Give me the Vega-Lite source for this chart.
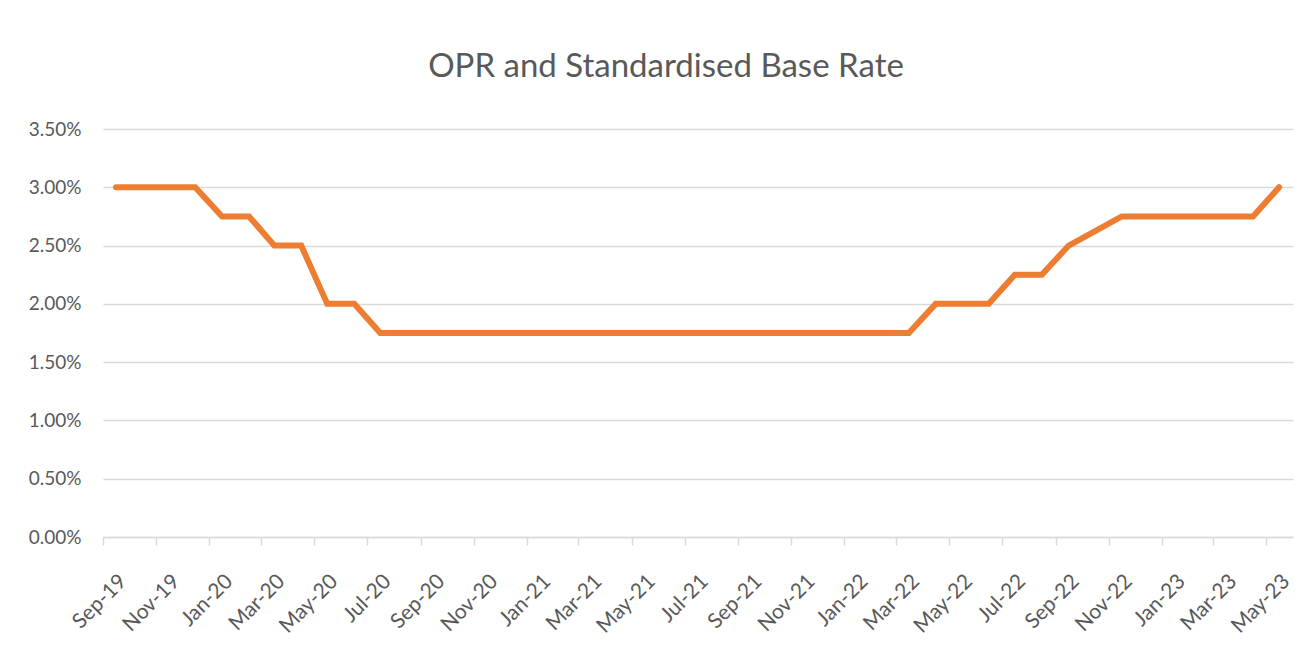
{
  "$schema": "https://vega.github.io/schema/vega-lite/v6.json",
  "autosize": {"type": "none"},
  "width": 1190,
  "height": 408,
  "padding": {"left": 103, "top": 129, "right": 22, "bottom": 118},
  "background": "white",
  "title": {
    "text": "OPR and Standardised Base Rate",
    "font": "Lato",
    "fontSize": 33,
    "fontWeight": "normal",
    "color": "#595959",
    "anchor": "middle",
    "baseline": "alphabetic",
    "offset": 10,
    "dx": -32
  },
  "config": {
    "view": {"stroke": null},
    "axis": {"labelFont": "Lato", "labelColor": "#595959", "labelFontSize": 19}
  },
  "data": {
    "values": [
      {"month": "2019-09-16T00:00:00", "rate": 0.03},
      {"month": "2019-10-16T00:00:00", "rate": 0.03},
      {"month": "2019-11-16T00:00:00", "rate": 0.03},
      {"month": "2019-12-16T00:00:00", "rate": 0.03},
      {"month": "2020-01-16T00:00:00", "rate": 0.0275},
      {"month": "2020-02-16T00:00:00", "rate": 0.0275},
      {"month": "2020-03-16T00:00:00", "rate": 0.025},
      {"month": "2020-04-16T00:00:00", "rate": 0.025},
      {"month": "2020-05-16T00:00:00", "rate": 0.02},
      {"month": "2020-06-16T00:00:00", "rate": 0.02},
      {"month": "2020-07-16T00:00:00", "rate": 0.0175},
      {"month": "2020-08-16T00:00:00", "rate": 0.0175},
      {"month": "2020-09-16T00:00:00", "rate": 0.0175},
      {"month": "2020-10-16T00:00:00", "rate": 0.0175},
      {"month": "2020-11-16T00:00:00", "rate": 0.0175},
      {"month": "2020-12-16T00:00:00", "rate": 0.0175},
      {"month": "2021-01-16T00:00:00", "rate": 0.0175},
      {"month": "2021-02-16T00:00:00", "rate": 0.0175},
      {"month": "2021-03-16T00:00:00", "rate": 0.0175},
      {"month": "2021-04-16T00:00:00", "rate": 0.0175},
      {"month": "2021-05-16T00:00:00", "rate": 0.0175},
      {"month": "2021-06-16T00:00:00", "rate": 0.0175},
      {"month": "2021-07-16T00:00:00", "rate": 0.0175},
      {"month": "2021-08-16T00:00:00", "rate": 0.0175},
      {"month": "2021-09-16T00:00:00", "rate": 0.0175},
      {"month": "2021-10-16T00:00:00", "rate": 0.0175},
      {"month": "2021-11-16T00:00:00", "rate": 0.0175},
      {"month": "2021-12-16T00:00:00", "rate": 0.0175},
      {"month": "2022-01-16T00:00:00", "rate": 0.0175},
      {"month": "2022-02-16T00:00:00", "rate": 0.0175},
      {"month": "2022-03-16T00:00:00", "rate": 0.0175},
      {"month": "2022-04-16T00:00:00", "rate": 0.02},
      {"month": "2022-05-16T00:00:00", "rate": 0.02},
      {"month": "2022-06-16T00:00:00", "rate": 0.02},
      {"month": "2022-07-16T00:00:00", "rate": 0.0225},
      {"month": "2022-08-16T00:00:00", "rate": 0.0225},
      {"month": "2022-09-16T00:00:00", "rate": 0.025},
      {"month": "2022-11-16T00:00:00", "rate": 0.0275},
      {"month": "2022-12-16T00:00:00", "rate": 0.0275},
      {"month": "2023-01-16T00:00:00", "rate": 0.0275},
      {"month": "2023-02-16T00:00:00", "rate": 0.0275},
      {"month": "2023-03-16T00:00:00", "rate": 0.0275},
      {"month": "2023-04-16T00:00:00", "rate": 0.0275},
      {"month": "2023-05-16T00:00:00", "rate": 0.03}
    ]
  },
  "mark": {"type": "line", "color": "#ED7D31", "strokeWidth": 6, "strokeCap": "round", "strokeJoin": "miter"},
  "encoding": {
    "x": {
      "field": "month",
      "type": "temporal",
      "title": null,
      "scale": {"domain": [{"year": 2019, "month": 9, "date": 1}, {"year": 2023, "month": 6, "date": 1}]},
      "axis": {
        "values": [
          {"year": 2019, "month": 9, "date": 1}, {"year": 2019, "month": 11, "date": 1},
          {"year": 2020, "month": 1, "date": 1}, {"year": 2020, "month": 3, "date": 1},
          {"year": 2020, "month": 5, "date": 1}, {"year": 2020, "month": 7, "date": 1},
          {"year": 2020, "month": 9, "date": 1}, {"year": 2020, "month": 11, "date": 1},
          {"year": 2021, "month": 1, "date": 1}, {"year": 2021, "month": 3, "date": 1},
          {"year": 2021, "month": 5, "date": 1}, {"year": 2021, "month": 7, "date": 1},
          {"year": 2021, "month": 9, "date": 1}, {"year": 2021, "month": 11, "date": 1},
          {"year": 2022, "month": 1, "date": 1}, {"year": 2022, "month": 3, "date": 1},
          {"year": 2022, "month": 5, "date": 1}, {"year": 2022, "month": 7, "date": 1},
          {"year": 2022, "month": 9, "date": 1}, {"year": 2022, "month": 11, "date": 1},
          {"year": 2023, "month": 1, "date": 1}, {"year": 2023, "month": 3, "date": 1},
          {"year": 2023, "month": 5, "date": 1}
        ],
        "format": "%b-%y",
        "labelAngle": -45,
        "labelAlign": "right",
        "labelBaseline": "middle",
        "labelFontSize": 21,
        "labelOffset": 20,
        "labelPadding": 33,
        "grid": false,
        "domain": true,
        "domainColor": "#D9D9D9",
        "domainWidth": 1.5,
        "ticks": true,
        "tickColor": "#D9D9D9",
        "tickWidth": 1.5,
        "tickSize": 8,
        "labelOverlap": false,
        "labelFlush": false
      }
    },
    "y": {
      "field": "rate",
      "type": "quantitative",
      "title": null,
      "scale": {"domain": [0, 0.035], "nice": false, "zero": true},
      "axis": {
        "values": [0, 0.005, 0.01, 0.015, 0.02, 0.025, 0.03, 0.035],
        "format": ".2%",
        "grid": true,
        "gridColor": "#D9D9D9",
        "gridWidth": 1.5,
        "domain": false,
        "ticks": false,
        "tickSize": 0,
        "labelPadding": 22
      }
    }
  }
}
